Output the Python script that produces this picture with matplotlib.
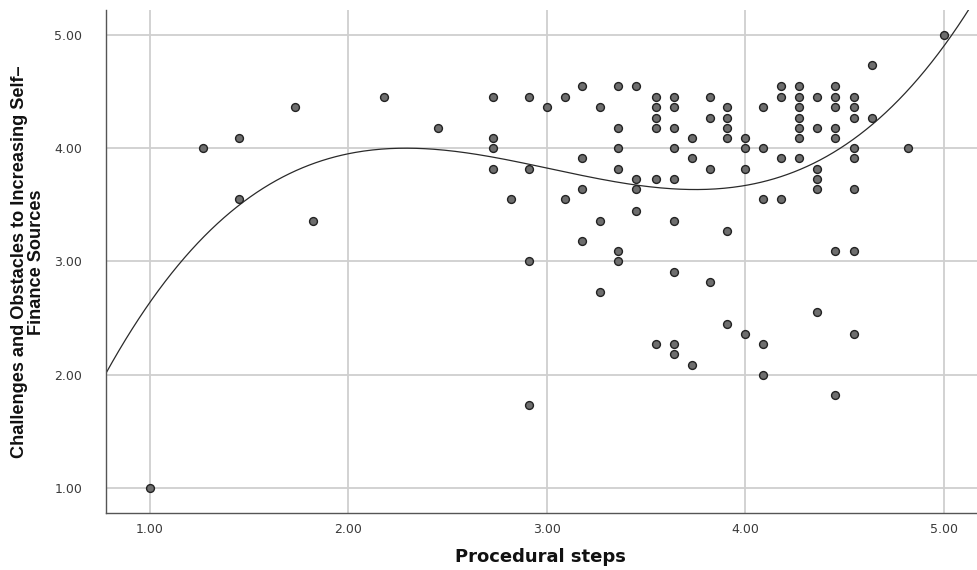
import numpy as np
import matplotlib
matplotlib.use("Agg")
import matplotlib.pyplot as plt

# scatter points (x = procedural steps, y = challenges)
x_vals = [1.00,
          1.27,
          1.45, 1.45,
          1.73,
          1.82,
          2.18,
          2.45,
          2.73, 2.73, 2.73, 2.73,
          2.82,
          2.91, 2.91, 2.91, 2.91,
          3.00,
          3.09, 3.09,
          3.18, 3.18, 3.18, 3.18,
          3.27, 3.27, 3.27,
          3.36, 3.36, 3.36, 3.36, 3.36, 3.36,
          3.45, 3.45, 3.45, 3.45,
          3.55, 3.55, 3.55, 3.55, 3.55, 3.55,
          3.64, 3.64, 3.64, 3.64, 3.64, 3.64, 3.64, 3.64, 3.64,
          3.73, 3.73, 3.73,
          3.82, 3.82, 3.82, 3.82,
          3.91, 3.91, 3.91, 3.91, 3.91, 3.91,
          4.00, 4.00, 4.00, 4.00,
          4.09, 4.09, 4.09, 4.09, 4.09,
          4.18, 4.18, 4.18, 4.18,
          4.27, 4.27, 4.27, 4.27, 4.27, 4.27, 4.27,
          4.36, 4.36, 4.36, 4.36, 4.36, 4.36,
          4.45, 4.45, 4.45, 4.45, 4.45, 4.45, 4.45,
          4.55, 4.55, 4.55, 4.55, 4.55, 4.55, 4.55, 4.55,
          4.64, 4.64,
          4.82,
          5.00]
y_vals = [1.00,
          4.00,
          4.09, 3.55,
          4.36,
          3.36,
          4.45,
          4.18,
          4.45, 4.09, 4.00, 3.82,
          3.55,
          4.45, 3.82, 3.00, 1.73,
          4.36,
          4.45, 3.55,
          4.55, 3.91, 3.64, 3.18,
          4.36, 3.36, 2.73,
          4.55, 4.18, 4.00, 3.82, 3.09, 3.00,
          4.55, 3.73, 3.64, 3.45,
          4.45, 4.36, 4.27, 4.18, 3.73, 2.27,
          4.45, 4.36, 4.18, 4.00, 3.73, 3.36, 2.91, 2.27, 2.18,
          4.09, 3.91, 2.09,
          4.45, 4.27, 3.82, 2.82,
          4.36, 4.27, 4.18, 4.09, 3.27, 2.45,
          4.09, 4.00, 3.82, 2.36,
          4.36, 4.00, 3.55, 2.27, 2.00,
          4.55, 4.45, 3.91, 3.55,
          4.55, 4.45, 4.36, 4.27, 4.18, 4.09, 3.91,
          4.45, 4.18, 3.82, 3.73, 3.64, 2.55,
          4.55, 4.45, 4.36, 4.18, 4.09, 3.09, 1.82,
          4.45, 4.36, 4.27, 4.00, 3.91, 3.64, 3.09, 2.36,
          4.73, 4.27,
          4.00,
          5.00]

# cubic fit line coefficients (highest power first)
fit_coef = [0.235, -2.129, 6.054, -1.521]

ticks = [1.0, 2.0, 3.0, 4.0, 5.0]
tick_labels = ["1.00", "2.00", "3.00", "4.00", "5.00"]

fig = plt.figure(figsize=(9.78, 5.70), dpi=100)
ax = fig.add_axes([0.1084, 0.10, 0.891, 0.8825])

ax.set_xlim(0.779, 5.17)
ax.set_ylim(0.78, 5.22)

ax.grid(True, color="#cfcfcf", linewidth=1.3)
ax.set_axisbelow(True)

xs = np.linspace(0.779, 5.17, 400)
ax.plot(xs, np.polyval(fit_coef, xs), color="#2a2a2a", linewidth=0.9, zorder=2)

ax.scatter(x_vals, y_vals, s=32, c="#6e6e6e", edgecolors="#222222",
           linewidths=1.0, zorder=3)

ax.set_xticks(ticks)
ax.set_xticklabels(tick_labels)
ax.set_yticks(ticks)
ax.set_yticklabels(tick_labels)
ax.tick_params(axis="both", length=0, labelsize=9, colors="#3a3a3a")
ax.tick_params(axis="x", pad=7)
ax.tick_params(axis="y", pad=17)

for side in ["top", "right"]:
    ax.spines[side].set_visible(False)
for side in ["left", "bottom"]:
    ax.spines[side].set_color("#555555")
    ax.spines[side].set_linewidth(1.0)

fig.text(0.553, 1 - 557 / 570, "Procedural steps", fontsize=13,
         fontweight="bold", family="DejaVu Sans", color="#111111",
         ha="center", va="center")
fig.text(0.029, 1 - 262 / 570,
         "Challenges and Obstacles to Increasing Self\u2013\nFinance Sources",
         fontsize=13.1, fontweight="bold", family="Liberation Sans",
         color="#111111", rotation=90, ha="center", va="center",
         multialignment="center", linespacing=1.0)

fig.savefig("out.png", dpi=100)
